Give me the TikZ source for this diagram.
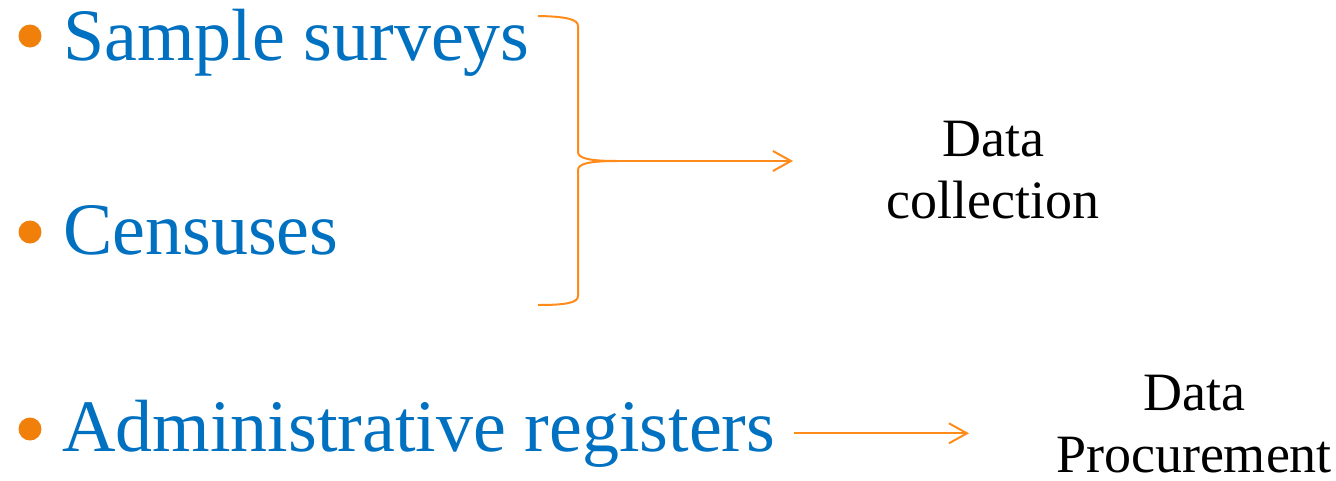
\documentclass[tikz,border=0pt]{standalone}
\usepackage{fontspec}
\setmainfont{LiberationSerif}[Extension=.ttf, UprightFont=*-Regular, BoldFont=*-Bold, ItalicFont=*-Italic, BoldItalicFont=*-BoldItalic]
\usetikzlibrary{arrows.meta}
\definecolor{itemblue}{RGB}{0,112,192}
\definecolor{bulletorange}{RGB}{240,128,10}
\definecolor{lineorange}{RGB}{255,140,26}
\begin{document}
\begin{tikzpicture}[x=1pt,y=-1pt,
  item/.style={anchor=base west, inner sep=0pt, text=itemblue, font=\fontsize{74}{80}\selectfont},
  bul/.style={circle, fill=bulletorange, inner sep=0pt, minimum size=23pt},
  lbl/.style={align=center, inner sep=0pt, font=\fontsize{54}{62}\selectfont},
  brace/.style={draw=lineorange, line width=2pt},
  conn/.style={draw=lineorange, line width=2pt, -{Straight Barb[length=18pt,width=20pt,line width=2pt]}}
]
\useasboundingbox (0,0) rectangle (1336,480);
% bullets
\node[bul] (b1) at (30,36) {};
\node[bul] (b2) at (30,232) {};
\node[bul] (b3) at (30,429) {};
% items
\node[item] (s) at (63,60) {Sample surveys};
\node[item] (c) at (63,254) {Censuses};
\node[item] (a) at (62,451) {Administrative registers};
% labels
\node[lbl] (dc) at (993,170) {Data\\collection};
\node[lbl] (dp) at (1194,424) {Data\\Procurement};
% brace
\coordinate (tip) at (617,161);
\draw[brace] (538,16) .. controls (565,16.5) and (578,19) .. (578,26)
  -- (578,152) .. controls (578,158) and (588,161) .. (tip)
  .. controls (588,161) and (578,164) .. (578,170)
  -- (578,296) .. controls (578,303) and (565,305) .. (538,305);
\coordinate (e1) at (793,161);
\draw[conn] (tip) -- (e1);
\coordinate (e2) at (969,433);
\draw[conn] ([xshift=18pt]a.east) -- (a.east -| e2);
\end{tikzpicture}
\end{document}
